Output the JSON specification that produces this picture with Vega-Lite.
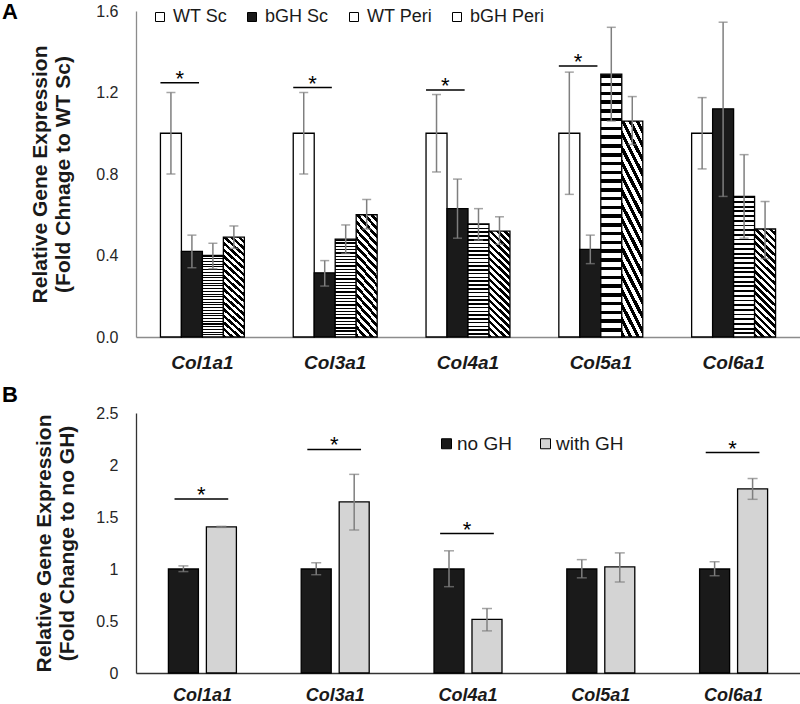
{
  "$schema": "https://vega.github.io/schema/vega-lite/v6.json",
  "padding": {"left": 2, "top": 1, "right": 0, "bottom": 0},
  "spacing": 12,
  "config": {
    "font": "Liberation Sans",
    "view": {"stroke": null},
    "axis": {"grid": false, "ticks": false}
  },
  "resolve": {
    "scale": {"x": "independent", "y": "independent", "xOffset": "independent", "fill": "independent"},
    "legend": {"fill": "independent"},
    "axis": {"x": "independent", "y": "independent"}
  },
  "datasets": {
    "A": [
      {"gene": "Col1a1", "series": "WT Sc", "value": 1.0, "lo": 0.80, "hi": 1.20},
      {"gene": "Col1a1", "series": "bGH Sc", "value": 0.42, "lo": 0.34, "hi": 0.50},
      {"gene": "Col1a1", "series": "WT Peri", "value": 0.40, "lo": 0.335, "hi": 0.46},
      {"gene": "Col1a1", "series": "bGH Peri", "value": 0.49, "lo": 0.435, "hi": 0.545},
      {"gene": "Col3a1", "series": "WT Sc", "value": 1.0, "lo": 0.80, "hi": 1.20},
      {"gene": "Col3a1", "series": "bGH Sc", "value": 0.315, "lo": 0.25, "hi": 0.375},
      {"gene": "Col3a1", "series": "WT Peri", "value": 0.48, "lo": 0.41, "hi": 0.55},
      {"gene": "Col3a1", "series": "bGH Peri", "value": 0.60, "lo": 0.53, "hi": 0.675},
      {"gene": "Col4a1", "series": "WT Sc", "value": 1.0, "lo": 0.81, "hi": 1.19},
      {"gene": "Col4a1", "series": "bGH Sc", "value": 0.63, "lo": 0.485, "hi": 0.775},
      {"gene": "Col4a1", "series": "WT Peri", "value": 0.555, "lo": 0.475, "hi": 0.63},
      {"gene": "Col4a1", "series": "bGH Peri", "value": 0.52, "lo": 0.455, "hi": 0.59},
      {"gene": "Col5a1", "series": "WT Sc", "value": 1.0, "lo": 0.70, "hi": 1.30},
      {"gene": "Col5a1", "series": "bGH Sc", "value": 0.43, "lo": 0.36, "hi": 0.50},
      {"gene": "Col5a1", "series": "WT Peri", "value": 1.29, "lo": 1.06, "hi": 1.52},
      {"gene": "Col5a1", "series": "bGH Peri", "value": 1.06, "lo": 0.945, "hi": 1.18},
      {"gene": "Col6a1", "series": "WT Sc", "value": 1.0, "lo": 0.825, "hi": 1.175},
      {"gene": "Col6a1", "series": "bGH Sc", "value": 1.12, "lo": 0.69, "hi": 1.545},
      {"gene": "Col6a1", "series": "WT Peri", "value": 0.69, "lo": 0.485, "hi": 0.895},
      {"gene": "Col6a1", "series": "bGH Peri", "value": 0.53, "lo": 0.385, "hi": 0.665}
    ],
    "B": [
      {"gene": "Col1a1", "series": "no GH", "value": 1.0, "lo": 0.975, "hi": 1.03},
      {"gene": "Col1a1", "series": "with GH", "value": 1.405, "lo": 1.40, "hi": 1.41},
      {"gene": "Col3a1", "series": "no GH", "value": 1.0, "lo": 0.945, "hi": 1.06},
      {"gene": "Col3a1", "series": "with GH", "value": 1.645, "lo": 1.375, "hi": 1.91},
      {"gene": "Col4a1", "series": "no GH", "value": 1.0, "lo": 0.83, "hi": 1.175},
      {"gene": "Col4a1", "series": "with GH", "value": 0.515, "lo": 0.405, "hi": 0.62},
      {"gene": "Col5a1", "series": "no GH", "value": 1.0, "lo": 0.915, "hi": 1.09},
      {"gene": "Col5a1", "series": "with GH", "value": 1.02, "lo": 0.875, "hi": 1.155},
      {"gene": "Col6a1", "series": "no GH", "value": 1.0, "lo": 0.935, "hi": 1.07},
      {"gene": "Col6a1", "series": "with GH", "value": 1.77, "lo": 1.67, "hi": 1.87}
    ],
    "sigA": [
      {"gene": "Col1a1", "level": 1.248},
      {"gene": "Col3a1", "level": 1.224},
      {"gene": "Col4a1", "level": 1.212},
      {"gene": "Col5a1", "level": 1.33}
    ],
    "sigB": [
      {"gene": "Col1a1", "level": 1.673},
      {"gene": "Col3a1", "level": 2.15},
      {"gene": "Col4a1", "level": 1.341},
      {"gene": "Col6a1", "level": 2.119}
    ]
  },
  "vconcat": [
    {
      "width": 664,
      "height": 326,
      "title": {"text": "A", "anchor": "start", "frame": "group", "fontSize": 22, "fontWeight": "bold", "color": "#000", "dx": -134, "offset": -21},
      "layer": [
        {
          "data": {"name": "A"},
          "mark": {"type": "bar", "stroke": "#000", "strokeWidth": 1.3},
          "encoding": {
            "x": {"field": "gene", "type": "nominal",
              "scale": {"domain": ["Col1a1", "Col3a1", "Col4a1", "Col5a1", "Col6a1"], "paddingInner": 0.368, "paddingOuter": 0.184},
              "axis": {"title": null, "labelAngle": 0, "labelFontSize": 19, "labelFontWeight": "bold", "labelFontStyle": "italic", "labelColor": "#1a1a1a", "labelPadding": 16, "domainColor": "#8c8c8c", "domainWidth": 1.3}},
            "xOffset": {"field": "series", "type": "nominal", "scale": {"domain": ["WT Sc", "bGH Sc", "WT Peri", "bGH Peri"], "paddingInner": 0, "paddingOuter": 0}},
            "y": {"field": "value", "type": "quantitative",
              "scale": {"domain": [0, 1.6], "nice": false},
              "axis": {"title": ["Relative Gene Expression", "(Fold Chnage to WT Sc)"], "titleFontSize": 21, "titleFontWeight": "bold", "titleColor": "#1a1a1a", "titleLineHeight": 23, "titlePadding": 22, "labelFontSize": 16, "labelColor": "#262626", "labelPadding": 18, "domainColor": "#8c8c8c", "domainWidth": 1.3, "values": [0, 0.4, 0.8, 1.2, 1.6], "format": ".1f"}},
            "fill": {"field": "series", "type": "nominal",
              "scale": {"domain": ["WT Sc", "bGH Sc", "WT Peri", "bGH Peri"], "range": ["#ffffff", "#1a1a1a", "#ffffff", "#ffffff"]},
              "condition": [
                {"test": "datum.series === 'WT Peri'", "value": {"gradient": "linear", "x1": 0, "y1": 0, "x2": 0, "y2": 1, "stops": [
{"offset":0,"color":"#000"},{"offset":0.0133,"color":"#000"},{"offset":0.0133,"color":"#fff"},{"offset":0.0333,"color":"#fff"},
{"offset":0.0333,"color":"#000"},{"offset":0.0467,"color":"#000"},{"offset":0.0467,"color":"#fff"},{"offset":0.0667,"color":"#fff"},
{"offset":0.0667,"color":"#000"},{"offset":0.08,"color":"#000"},{"offset":0.08,"color":"#fff"},{"offset":0.1,"color":"#fff"},
{"offset":0.1,"color":"#000"},{"offset":0.1133,"color":"#000"},{"offset":0.1133,"color":"#fff"},{"offset":0.1333,"color":"#fff"},
{"offset":0.1333,"color":"#000"},{"offset":0.1467,"color":"#000"},{"offset":0.1467,"color":"#fff"},{"offset":0.1667,"color":"#fff"},
{"offset":0.1667,"color":"#000"},{"offset":0.18,"color":"#000"},{"offset":0.18,"color":"#fff"},{"offset":0.2,"color":"#fff"},
{"offset":0.2,"color":"#000"},{"offset":0.2133,"color":"#000"},{"offset":0.2133,"color":"#fff"},{"offset":0.2333,"color":"#fff"},
{"offset":0.2333,"color":"#000"},{"offset":0.2467,"color":"#000"},{"offset":0.2467,"color":"#fff"},{"offset":0.2667,"color":"#fff"},
{"offset":0.2667,"color":"#000"},{"offset":0.28,"color":"#000"},{"offset":0.28,"color":"#fff"},{"offset":0.3,"color":"#fff"},
{"offset":0.3,"color":"#000"},{"offset":0.3133,"color":"#000"},{"offset":0.3133,"color":"#fff"},{"offset":0.3333,"color":"#fff"},
{"offset":0.3333,"color":"#000"},{"offset":0.3467,"color":"#000"},{"offset":0.3467,"color":"#fff"},{"offset":0.3667,"color":"#fff"},
{"offset":0.3667,"color":"#000"},{"offset":0.38,"color":"#000"},{"offset":0.38,"color":"#fff"},{"offset":0.4,"color":"#fff"},
{"offset":0.4,"color":"#000"},{"offset":0.4133,"color":"#000"},{"offset":0.4133,"color":"#fff"},{"offset":0.4333,"color":"#fff"},
{"offset":0.4333,"color":"#000"},{"offset":0.4467,"color":"#000"},{"offset":0.4467,"color":"#fff"},{"offset":0.4667,"color":"#fff"},
{"offset":0.4667,"color":"#000"},{"offset":0.48,"color":"#000"},{"offset":0.48,"color":"#fff"},{"offset":0.5,"color":"#fff"},
{"offset":0.5,"color":"#000"},{"offset":0.5133,"color":"#000"},{"offset":0.5133,"color":"#fff"},{"offset":0.5333,"color":"#fff"},
{"offset":0.5333,"color":"#000"},{"offset":0.5467,"color":"#000"},{"offset":0.5467,"color":"#fff"},{"offset":0.5667,"color":"#fff"},
{"offset":0.5667,"color":"#000"},{"offset":0.58,"color":"#000"},{"offset":0.58,"color":"#fff"},{"offset":0.6,"color":"#fff"},
{"offset":0.6,"color":"#000"},{"offset":0.6133,"color":"#000"},{"offset":0.6133,"color":"#fff"},{"offset":0.6333,"color":"#fff"},
{"offset":0.6333,"color":"#000"},{"offset":0.6467,"color":"#000"},{"offset":0.6467,"color":"#fff"},{"offset":0.6667,"color":"#fff"},
{"offset":0.6667,"color":"#000"},{"offset":0.68,"color":"#000"},{"offset":0.68,"color":"#fff"},{"offset":0.7,"color":"#fff"},
{"offset":0.7,"color":"#000"},{"offset":0.7133,"color":"#000"},{"offset":0.7133,"color":"#fff"},{"offset":0.7333,"color":"#fff"},
{"offset":0.7333,"color":"#000"},{"offset":0.7467,"color":"#000"},{"offset":0.7467,"color":"#fff"},{"offset":0.7667,"color":"#fff"},
{"offset":0.7667,"color":"#000"},{"offset":0.78,"color":"#000"},{"offset":0.78,"color":"#fff"},{"offset":0.8,"color":"#fff"},
{"offset":0.8,"color":"#000"},{"offset":0.8133,"color":"#000"},{"offset":0.8133,"color":"#fff"},{"offset":0.8333,"color":"#fff"},
{"offset":0.8333,"color":"#000"},{"offset":0.8467,"color":"#000"},{"offset":0.8467,"color":"#fff"},{"offset":0.8667,"color":"#fff"},
{"offset":0.8667,"color":"#000"},{"offset":0.88,"color":"#000"},{"offset":0.88,"color":"#fff"},{"offset":0.9,"color":"#fff"},
{"offset":0.9,"color":"#000"},{"offset":0.9133,"color":"#000"},{"offset":0.9133,"color":"#fff"},{"offset":0.9333,"color":"#fff"},
{"offset":0.9333,"color":"#000"},{"offset":0.9467,"color":"#000"},{"offset":0.9467,"color":"#fff"},{"offset":0.9667,"color":"#fff"},
{"offset":0.9667,"color":"#000"},{"offset":0.98,"color":"#000"},{"offset":0.98,"color":"#fff"},{"offset":1,"color":"#fff"}
                ]}},
                {"test": "datum.series === 'bGH Peri'", "value": {"gradient": "linear", "x1": 0, "y1": 1, "x2": 0.218, "y2": -0.149, "stops": [
{"offset":0,"color":"#000"},{"offset":0.0278,"color":"#000"},{"offset":0.0278,"color":"#fff"},{"offset":0.0556,"color":"#fff"},
{"offset":0.0556,"color":"#000"},{"offset":0.0833,"color":"#000"},{"offset":0.0833,"color":"#fff"},{"offset":0.1111,"color":"#fff"},
{"offset":0.1111,"color":"#000"},{"offset":0.1389,"color":"#000"},{"offset":0.1389,"color":"#fff"},{"offset":0.1667,"color":"#fff"},
{"offset":0.1667,"color":"#000"},{"offset":0.1944,"color":"#000"},{"offset":0.1944,"color":"#fff"},{"offset":0.2222,"color":"#fff"},
{"offset":0.2222,"color":"#000"},{"offset":0.25,"color":"#000"},{"offset":0.25,"color":"#fff"},{"offset":0.2778,"color":"#fff"},
{"offset":0.2778,"color":"#000"},{"offset":0.3056,"color":"#000"},{"offset":0.3056,"color":"#fff"},{"offset":0.3333,"color":"#fff"},
{"offset":0.3333,"color":"#000"},{"offset":0.3611,"color":"#000"},{"offset":0.3611,"color":"#fff"},{"offset":0.3889,"color":"#fff"},
{"offset":0.3889,"color":"#000"},{"offset":0.4167,"color":"#000"},{"offset":0.4167,"color":"#fff"},{"offset":0.4444,"color":"#fff"},
{"offset":0.4444,"color":"#000"},{"offset":0.4722,"color":"#000"},{"offset":0.4722,"color":"#fff"},{"offset":0.5,"color":"#fff"},
{"offset":0.5,"color":"#000"},{"offset":0.5278,"color":"#000"},{"offset":0.5278,"color":"#fff"},{"offset":0.5556,"color":"#fff"},
{"offset":0.5556,"color":"#000"},{"offset":0.5833,"color":"#000"},{"offset":0.5833,"color":"#fff"},{"offset":0.6111,"color":"#fff"},
{"offset":0.6111,"color":"#000"},{"offset":0.6389,"color":"#000"},{"offset":0.6389,"color":"#fff"},{"offset":0.6667,"color":"#fff"},
{"offset":0.6667,"color":"#000"},{"offset":0.6944,"color":"#000"},{"offset":0.6944,"color":"#fff"},{"offset":0.7222,"color":"#fff"},
{"offset":0.7222,"color":"#000"},{"offset":0.75,"color":"#000"},{"offset":0.75,"color":"#fff"},{"offset":0.7778,"color":"#fff"},
{"offset":0.7778,"color":"#000"},{"offset":0.8056,"color":"#000"},{"offset":0.8056,"color":"#fff"},{"offset":0.8333,"color":"#fff"},
{"offset":0.8333,"color":"#000"},{"offset":0.8611,"color":"#000"},{"offset":0.8611,"color":"#fff"},{"offset":0.8889,"color":"#fff"},
{"offset":0.8889,"color":"#000"},{"offset":0.9167,"color":"#000"},{"offset":0.9167,"color":"#fff"},{"offset":0.9444,"color":"#fff"},
{"offset":0.9444,"color":"#000"},{"offset":0.9722,"color":"#000"},{"offset":0.9722,"color":"#fff"},{"offset":1,"color":"#fff"}
                ]}}
              ],
              "legend": {
                "orient": "none", "legendX": 15, "legendY": -3, "direction": "horizontal", "title": null,
                "labelFontSize": 18, "labelColor": "#1a1a1a", "labelOffset": 4, "columnPadding": 16,
                "symbolType": "square", "symbolSize": 81, "symbolStrokeColor": "#000", "symbolStrokeWidth": 1,
                "encode": {"symbols": {"update": {
                  "stroke": {"value": "#000"},
                  "fill": [
                    {"test": "datum.value === 'WT Peri'", "value": {"gradient": "linear", "x1": 0, "y1": 0, "x2": 0, "y2": 1, "stops": [{"offset":0,"color":"#fff"},{"offset":0.25,"color":"#fff"},{"offset":0.25,"color":"#000"},{"offset":0.42,"color":"#000"},{"offset":0.42,"color":"#fff"},{"offset":0.58,"color":"#fff"},{"offset":0.58,"color":"#000"},{"offset":0.75,"color":"#000"},{"offset":0.75,"color":"#fff"},{"offset":1,"color":"#fff"}]}},
                    {"test": "datum.value === 'bGH Peri'", "value": {"gradient": "linear", "x1": 0, "y1": 1, "x2": 1, "y2": 0, "stops": [{"offset":0,"color":"#000"},{"offset":0.38,"color":"#000"},{"offset":0.38,"color":"#fff"},{"offset":0.62,"color":"#fff"},{"offset":0.62,"color":"#000"},{"offset":1,"color":"#000"}]}},
                    {"test": "datum.value === 'bGH Sc'", "value": "#1a1a1a"},
                    {"value": "#ffffff"}
                  ]
                }}}
              }
            }
          }
        },
        {
          "data": {"name": "A"},
          "mark": {"type": "rule", "color": "#7f7f7f", "strokeWidth": 1.5},
          "encoding": {
            "x": {"field": "gene", "type": "nominal"},
            "xOffset": {"field": "series", "type": "nominal"},
            "y": {"field": "lo", "type": "quantitative"},
            "y2": {"field": "hi"}
          }
        },
        {
          "data": {"name": "A"},
          "mark": {"type": "tick", "color": "#7f7f7f", "thickness": 1.5, "size": 9},
          "encoding": {
            "x": {"field": "gene", "type": "nominal"},
            "xOffset": {"field": "series", "type": "nominal"},
            "y": {"field": "lo", "type": "quantitative"}
          }
        },
        {
          "data": {"name": "A"},
          "mark": {"type": "tick", "color": "#7f7f7f", "thickness": 1.5, "size": 9},
          "encoding": {
            "x": {"field": "gene", "type": "nominal"},
            "xOffset": {"field": "series", "type": "nominal"},
            "y": {"field": "hi", "type": "quantitative"}
          }
        },
        {
          "data": {"name": "sigA"},
          "mark": {"type": "rule", "color": "#000", "strokeWidth": 1.5},
          "encoding": {
            "x": {"field": "gene", "type": "nominal", "bandPosition": 0},
            "x2": {"field": "gene", "bandPosition": 0.46},
            "y": {"field": "level", "type": "quantitative"}
          }
        },
        {
          "data": {"name": "sigA"},
          "mark": {"type": "text", "text": "*", "fontSize": 22, "color": "#000", "baseline": "alphabetic", "dy": 3},
          "encoding": {
            "x": {"field": "gene", "type": "nominal", "bandPosition": 0.23},
            "y": {"field": "level", "type": "quantitative"}
          }
        }
      ]
    },
    {
      "width": 664,
      "height": 260,
      "title": {"text": "B", "anchor": "start", "frame": "group", "fontSize": 22, "fontWeight": "bold", "color": "#000", "dx": -134, "offset": -2},
      "layer": [
        {
          "data": {"name": "B"},
          "mark": {"type": "bar", "stroke": "#000", "strokeWidth": 1.3},
          "encoding": {
            "x": {"field": "gene", "type": "nominal",
              "scale": {"domain": ["Col1a1", "Col3a1", "Col4a1", "Col5a1", "Col6a1"], "paddingInner": 0.488, "paddingOuter": 0.244},
              "axis": {"title": null, "labelAngle": 0, "labelFontSize": 18, "labelFontWeight": "bold", "labelFontStyle": "italic", "labelColor": "#1a1a1a", "labelPadding": 13, "domainColor": "#333333", "domainWidth": 1.3}},
            "xOffset": {"field": "series", "type": "nominal", "scale": {"domain": ["no GH", "with GH"], "paddingInner": 0.21, "paddingOuter": 0}},
            "y": {"field": "value", "type": "quantitative",
              "scale": {"domain": [0, 2.5], "nice": false},
              "axis": {"title": ["Relative Gene Expression", "(Fold Change to no GH)"], "titleFontSize": 21, "titleFontWeight": "bold", "titleColor": "#1a1a1a", "titleLineHeight": 23, "titlePadding": 18, "labelFontSize": 16, "labelColor": "#262626", "labelPadding": 18, "domainColor": "#333333", "domainWidth": 1.3, "values": [0, 0.5, 1, 1.5, 2, 2.5], "format": "~g"}},
            "fill": {"field": "series", "type": "nominal",
              "scale": {"domain": ["no GH", "with GH"], "range": ["#1a1a1a", "#d4d4d4"]},
              "legend": {
                "orient": "none", "legendX": 301, "legendY": 21, "direction": "horizontal", "title": null,
                "labelFontSize": 19, "labelColor": "#1a1a1a", "labelOffset": 1, "columnPadding": 24,
                "symbolType": "square", "symbolSize": 100, "symbolStrokeColor": "#000", "symbolStrokeWidth": 1,
                "encode": {"symbols": {"update": {"stroke": {"value": "#000"}}}}
              }
            }
          }
        },
        {
          "data": {"name": "B"},
          "mark": {"type": "rule", "color": "#7f7f7f", "strokeWidth": 1.5},
          "encoding": {
            "x": {"field": "gene", "type": "nominal"},
            "xOffset": {"field": "series", "type": "nominal"},
            "y": {"field": "lo", "type": "quantitative"},
            "y2": {"field": "hi"}
          }
        },
        {
          "data": {"name": "B"},
          "mark": {"type": "tick", "color": "#7f7f7f", "thickness": 1.5, "size": 10},
          "encoding": {
            "x": {"field": "gene", "type": "nominal"},
            "xOffset": {"field": "series", "type": "nominal"},
            "y": {"field": "lo", "type": "quantitative"}
          }
        },
        {
          "data": {"name": "B"},
          "mark": {"type": "tick", "color": "#7f7f7f", "thickness": 1.5, "size": 10},
          "encoding": {
            "x": {"field": "gene", "type": "nominal"},
            "xOffset": {"field": "series", "type": "nominal"},
            "y": {"field": "hi", "type": "quantitative"}
          }
        },
        {
          "data": {"name": "sigB"},
          "mark": {"type": "rule", "color": "#000", "strokeWidth": 1.5},
          "encoding": {
            "x": {"field": "gene", "type": "nominal", "bandPosition": 0.09},
            "x2": {"field": "gene", "bandPosition": 0.88},
            "y": {"field": "level", "type": "quantitative"}
          }
        },
        {
          "data": {"name": "sigB"},
          "mark": {"type": "text", "text": "*", "fontSize": 22, "color": "#000", "baseline": "alphabetic", "dy": 3},
          "encoding": {
            "x": {"field": "gene", "type": "nominal", "bandPosition": 0.485},
            "y": {"field": "level", "type": "quantitative"}
          }
        }
      ]
    }
  ]
}
